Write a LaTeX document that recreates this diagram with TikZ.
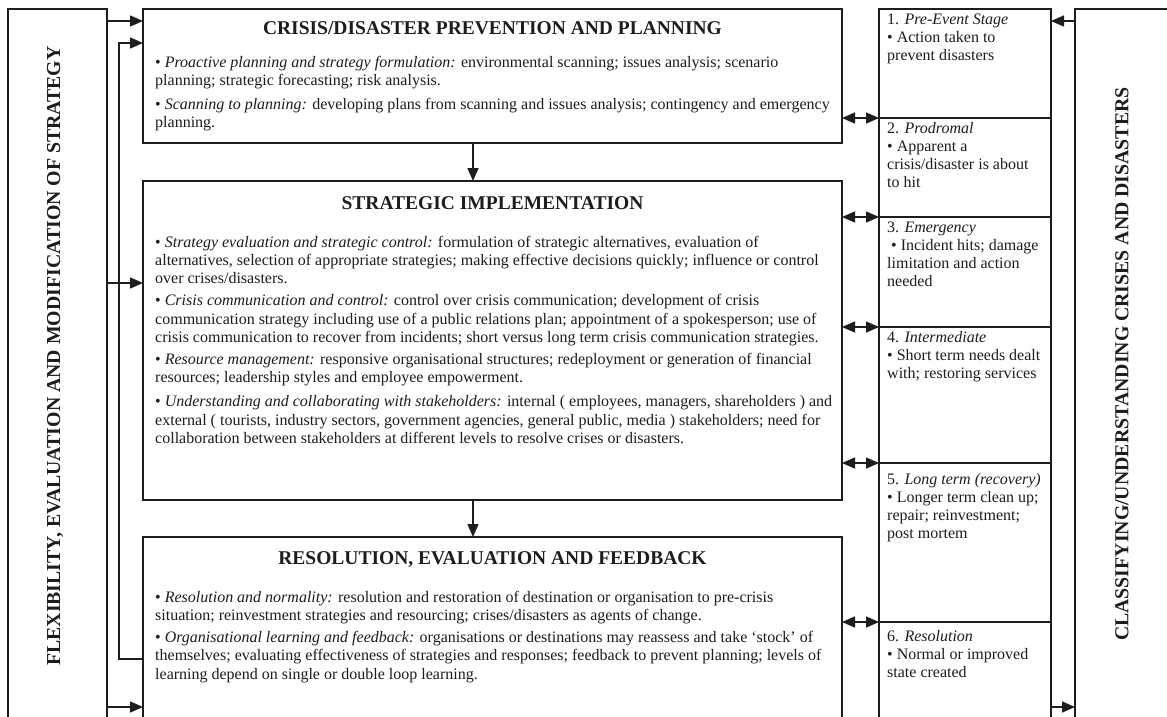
\documentclass[tikz,border=0pt]{standalone}
\usepackage{fontspec}
\setmainfont{Liberation Serif}
\usetikzlibrary{arrows.meta}
\definecolor{ink}{RGB}{30,28,29}
\newcommand{\bodyfont}{\fontsize{16}{18.2}\selectfont}
\newcommand{\headfont}{\fontsize{19.5}{22}\selectfont\bfseries}
\newcommand{\sidefont}{\fontsize{19.8}{22}\selectfont\bfseries}
\newcommand{\sr}{\rule{0pt}{12pt}}
\begin{document}
\begin{tikzpicture}[x=1pt,y=-1pt,
  frame/.style={draw=ink, line width=1.5pt, inner sep=0pt, outer sep=0pt, anchor=north west},
  body/.style={font=\bodyfont, text=ink, align=left, anchor=north west, inner sep=0pt},
  head/.style={font=\headfont, text=ink, anchor=base, inner sep=0pt},
  side/.style={font=\sidefont, text=ink, anchor=center, rotate=90, inner sep=0pt},
  arr/.style={draw=ink, line width=1.5pt, -{Triangle[length=13pt,width=11pt]}},
  darr/.style={draw=ink, line width=1.5pt, {Triangle[length=13pt,width=11pt]}-{Triangle[length=13pt,width=11pt]}},
]
\useasboundingbox (0,0) rectangle (1167,716);
\fill[white] (0,0) rectangle (1167,716);
\begin{scope}
\clip (0,0) rectangle (1167,716);
% frames
\node[frame, minimum width=99pt, minimum height=730pt] (lbar) at (8,9) {};
\node[frame, minimum width=699pt, minimum height=134pt] (top) at (143,9) {};
\node[frame, minimum width=699pt, minimum height=319pt] (mid) at (143,181) {};
\node[frame, minimum width=699pt, minimum height=200pt] (bot) at (143,537) {};
\node[frame, minimum width=172pt, minimum height=109pt] (s1) at (879,9) {};
\node[frame, minimum width=172pt, minimum height=99pt] (s2) at (879,118) {};
\node[frame, minimum width=172pt, minimum height=110pt] (s3) at (879,217) {};
\node[frame, minimum width=172pt, minimum height=136pt] (s4) at (879,327) {};
\node[frame, minimum width=172pt, minimum height=159pt] (s5) at (879,463) {};
\node[frame, minimum width=172pt, minimum height=120pt] (s6) at (879,622) {};
\node[frame, minimum width=120pt, minimum height=730pt] (rbar) at (1075,9) {};
\end{scope}
% vertical labels
\node[side] (ltxt) at (55,356) {FLEXIBILITY, EVALUATION AND MODIFICATION OF STRATEGY};
\node[side] (rtxt) at (1122,364) {CLASSIFYING/UNDERSTANDING CRISES AND DISASTERS};
% top box
\node[head] (toph) at (492.5,34.5) {CRISIS/DISASTER PREVENTION AND PLANNING};
\node[body] (topt) at (155,55) {\sr\textbullet\ \textit{Proactive planning and strategy formulation:} environmental scanning; issues analysis; scenario\\
planning; strategic forecasting; risk analysis.\\[6pt]
\textbullet\ \textit{Scanning to planning:} developing plans from scanning and issues analysis; contingency and emergency\\
planning.};
% middle box
\node[head] (midh) at (492.5,209) {STRATEGIC IMPLEMENTATION};
\node[body] (midt) at (155,235) {\sr\textbullet\ \textit{Strategy evaluation and strategic control:} formulation of strategic alternatives, evaluation of\\
alternatives, selection of appropriate strategies; making effective decisions quickly; influence or control\\
over crises/disasters.\\[4pt]
\textbullet\ \textit{Crisis communication and control:} control over crisis communication; development of crisis\\
communication strategy including use of a public relations plan; appointment of a spokesperson; use of\\
crisis communication to recover from incidents; short versus long term crisis communication strategies.\\[4pt]
\textbullet\ \textit{Resource management:} responsive organisational structures; redeployment or generation of financial\\
resources; leadership styles and employee empowerment.\\[6pt]
\textbullet\ \textit{Understanding and collaborating with stakeholders:} internal ( employees, managers, shareholders ) and\\
external ( tourists, industry sectors, government agencies, general public, media ) stakeholders; need for\\
collaboration between stakeholders at different levels to resolve crises or disasters.};
% bottom box
\node[head] (both) at (492.5,564.5) {RESOLUTION, EVALUATION AND FEEDBACK};
\node[body] (bott) at (155,590) {\sr\textbullet\ \textit{Resolution and normality:} resolution and restoration of destination or organisation to pre-crisis\\
situation; reinvestment strategies and resourcing; crises/disasters as agents of change.\\[4pt]
\textbullet\ \textit{Organisational learning and feedback:} organisations or destinations may reassess and take ‘stock’ of\\
themselves; evaluating effectiveness of strategies and responses; feedback to prevent planning; levels of\\
learning depend on single or double loop learning.};
% stages
\node[body] (t1) at (887,12) {\sr1. \textit{Pre-Event Stage}\\ \textbullet\ Action taken to\\ prevent disasters};
\node[body] (t2) at (887,121) {\sr2. \textit{Prodromal}\\ \textbullet\ Apparent a\\ crisis/disaster is about\\ to hit};
\node[body] (t3) at (887,220) {\sr3. \textit{Emergency}\\ \hspace*{4pt}\textbullet\ Incident hits; damage\\ limitation and action\\ needed};
\node[body] (t4) at (887,330) {\sr4. \textit{Intermediate}\\ \textbullet\ Short term needs dealt\\ with; restoring services};
\node[body] (t5) at (887,472) {\sr5. \textit{Long term (recovery)}\\ \textbullet\ Longer term clean up;\\ repair; reinvestment;\\ post mortem};
\node[body] (t6) at (887,629) {\sr6. \textit{Resolution}\\ \textbullet\ Normal or improved\\ state created};
% connector coordinates
\coordinate (a1) at ([yshift=-12pt]top.north west);
\coordinate (a2) at ([yshift=-34pt]top.north west);
\coordinate (a3) at ([yshift=-122pt]bot.north west);
\coordinate (a4) at ([yshift=-102pt]mid.north west);
\coordinate (a5) at ([yshift=-170pt]bot.north west);
\coordinate (b1) at ([xshift=-19.5pt]top.south);
\coordinate (b2) at ([xshift=-19.5pt]mid.south);
\coordinate (c1) at ([yshift=-12pt]s1.north east);
\coordinate (c2) at ([yshift=-85pt]s6.north east);
% connectors
\draw[arr] (lbar.east |- a1) -- (a1);
\draw[arr] (a3) -- ++(-24,0) |- (a2);
\draw[arr] (lbar.east |- a4) -- (a4);
\draw[arr] (lbar.east |- a5) -- (a5);
\draw[arr] (b1) -- (b1 |- mid.north);
\draw[arr] (b2) -- (b2 |- bot.north);
\draw[darr] (s1.south west -| top.east) -- (s1.south west);
\draw[darr] (s2.south west -| mid.east) -- (s2.south west);
\draw[darr] (s3.south west -| mid.east) -- (s3.south west);
\draw[darr] (s4.south west -| mid.east) -- (s4.south west);
\draw[darr] (s5.south west -| bot.east) -- (s5.south west);
\draw[arr] (rbar.west |- c1) -- (c1);
\draw[arr] (c2) -- (rbar.west |- c2);
\end{tikzpicture}
\end{document}
